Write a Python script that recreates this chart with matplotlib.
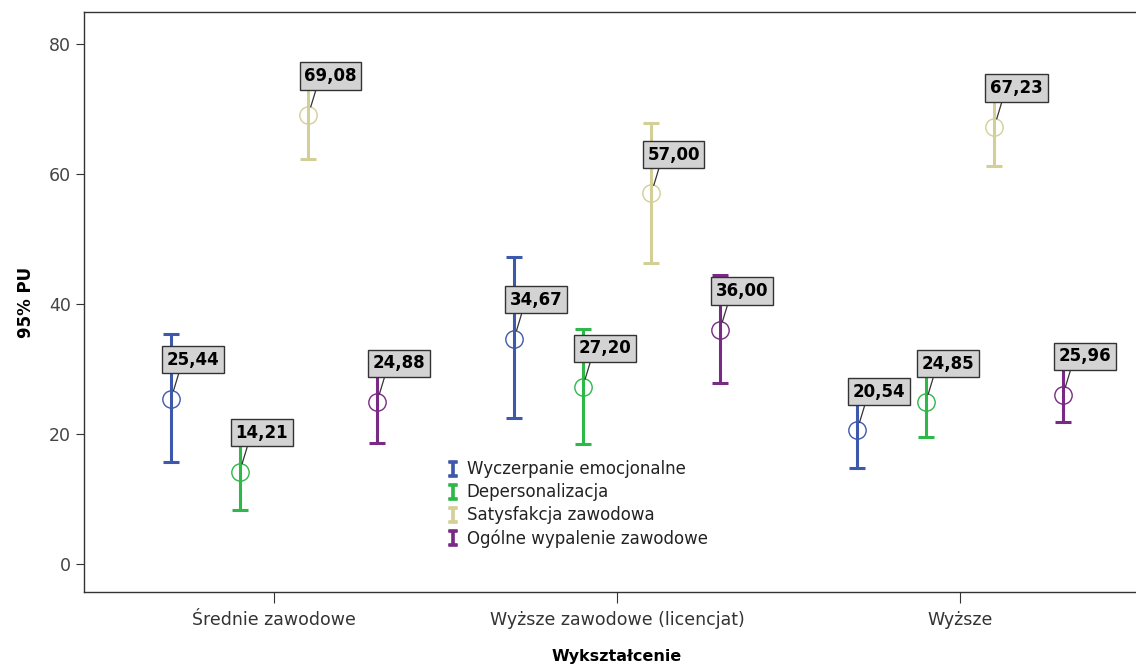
import numpy as np
import matplotlib
matplotlib.use("Agg")
from matplotlib import pyplot as plt
from matplotlib.lines import Line2D

# data
groups = ["Średnie zawodowe", "Wyższe zawodowe (licencjat)", "Wyższe"]
series = ["Wyczerpanie emocjonalne", "Depersonalizacja",
          "Satysfakcja zawodowa", "Ogólne wypalenie zawodowe"]
colors = ["#3e58ac", "#2eb848", "#d4ce97", "#782a84"]

means = [[25.44, 34.67, 20.54],
         [14.21, 27.20, 24.85],
         [69.08, 57.00, 67.23],
         [24.88, 36.00, 25.96]]
upper = [[35.4, 47.2, 26.6],
         [20.2, 36.2, 30.5],
         [76.3, 67.8, 73.4],
         [31.5, 44.5, 30.6]]
lower = [[15.7, 22.5, 14.8],
         [8.3, 18.5, 19.5],
         [62.3, 46.3, 61.2],
         [18.6, 27.8, 21.8]]
offsets = [-0.3, -0.1, 0.1, 0.3]


def main():
    plt.rcParams['font.family'] = ['DejaVu Sans']
    fig = plt.figure(figsize=(11.36, 6.64), dpi=100)
    ax = fig.add_axes([84/1136, 1-592/664, 1066/1136, 580/664])

    x = np.arange(len(groups))
    handles = []
    for i, name in enumerate(series):
        xs = x + offsets[i]
        m = np.array(means[i])
        lo = m - np.array(lower[i])
        hi = np.array(upper[i]) - m
        ax.errorbar(xs, m, yerr=[lo, hi], fmt='none', ecolor=colors[i],
                    elinewidth=2.2, capsize=6, capthick=2.2)
        handles.append(Line2D([], [], ls='none', marker=r'$\mathtt{I}$',
                              ms=11, mew=1.2, color=colors[i], label=name))
        ax.plot(xs, m, 'o', mfc='none', mec=colors[i], ms=12.5, mew=1.0,
                zorder=3)
        for xi, mi in zip(xs, m):
            ax.annotate(f"{mi:.2f}".replace('.', ','), xy=(xi, mi),
                        xytext=(16, 28), textcoords='offset points',
                        ha='center', va='center', fontsize=12,
                        fontweight='bold', zorder=5,
                        bbox=dict(boxstyle='square,pad=0.28', fc='#d3d3d3',
                                  ec='#333333', lw=1.0),
                        arrowprops=dict(arrowstyle='-', color='#333333',
                                        lw=0.9, shrinkA=0, shrinkB=6,
                                        relpos=(0.25, 0)))

    ax.set_xlim(-0.554, 2.554)
    ax.set_ylim(-4.3, 84.9)
    ax.set_xticks(x)
    ax.set_xticklabels(groups, fontsize=12.5, color='#333333')
    ax.set_yticks([0, 20, 40, 60, 80])
    ax.tick_params(axis='y', labelsize=12.5, labelcolor='#444444',
                   length=6, color='#333333')
    ax.tick_params(axis='x', length=8, color='#333333', pad=6)
    for s in ax.spines.values():
        s.set_color('#333333')
        s.set_linewidth(1.0)

    ax.set_ylabel("95% PU", fontsize=12, fontweight='bold', labelpad=10)
    ax.set_xlabel("Wykształcenie", fontsize=11.5, fontweight='bold',
                  labelpad=14)

    fig.legend(handles=handles, loc='upper left',
               bbox_to_anchor=(440/1136, 1-452/664), frameon=False,
               fontsize=12, handlelength=0.6, handletextpad=0.5,
               labelspacing=0.3, borderpad=0, labelcolor='#222222')

    fig.savefig("out.png", dpi=100)


if __name__ == "__main__":
    main()
